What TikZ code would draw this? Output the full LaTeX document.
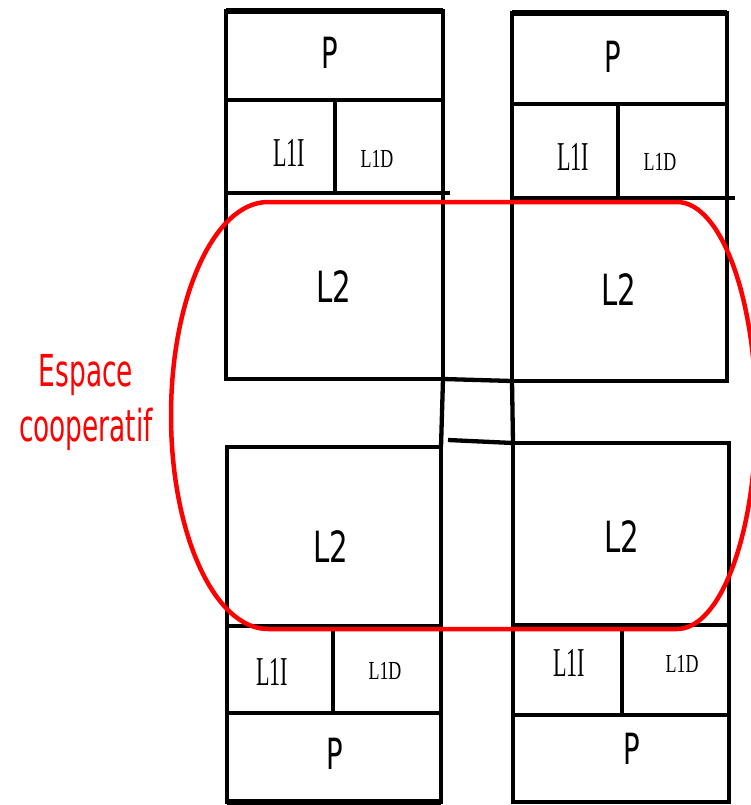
\documentclass[tikz,border=0pt]{standalone}
\usepackage{graphicx}
\usepackage{fontspec}
\newfontfamily\sansf{DejaVu Sans}
\newfontfamily\seriff{Liberation Serif}
\definecolor{espred}{RGB}{255,0,0}
\tikzset{
  cell/.style={draw, line width=4.3pt, inner sep=0pt, outer sep=0pt, anchor=north west},
  thickedge/.style={line width=6.5pt},
  joinline/.style={line width=4.3pt},
  bigtxt/.style={inner sep=0pt, font=\sansf\fontsize{43}{43}\selectfont},
  litxt/.style={inner sep=0pt, font=\seriff\fontsize{41}{41}\selectfont},
  ldtxt/.style={inner sep=0pt, font=\seriff\fontsize{26}{26}\selectfont},
  zone/.style={draw=espred, line width=4.5pt},
  zonetxt/.style={inner sep=0pt, text=espred, align=center, font=\sansf\fontsize{44}{55}\selectfont}
}
\newcommand{\sq}[2]{\scalebox{#1}[1]{#2}}
\begin{document}
\begin{tikzpicture}[x=1pt,y=1pt]
\useasboundingbox (0,0) rectangle (751,-805);
% top-left column
\node[cell, minimum width=217pt, minimum height=89pt] (tlP) at (226,-11) {};
\node[cell, minimum width=109pt, minimum height=93pt] (tlI) at (226,-100) {};
\node[cell, minimum width=108pt, minimum height=93pt] (tlD) at (335,-100) {};
\node[cell, minimum width=217pt, minimum height=186pt] (tlL) at (226,-193) {};
\draw[thickedge] (tlP.north west) -- (tlP.north east);
\coordinate (tlext) at (450,-193);
\draw[joinline] (tlL.north east) -- (tlext);
% top-right column
\node[cell, minimum width=215pt, minimum height=91pt] (trP) at (512,-13) {};
\node[cell, minimum width=106pt, minimum height=94pt] (trI) at (512,-104) {};
\node[cell, minimum width=109pt, minimum height=94pt] (trD) at (618,-104) {};
\node[cell, minimum width=215pt, minimum height=183pt] (trL) at (512,-198) {};
\draw[thickedge] (trP.north west) -- (trP.north east);
\coordinate (trext) at (735,-198);
\draw[joinline] (trL.north east) -- (trext);
% bottom-left column
\node[cell, minimum width=214pt, minimum height=179pt] (blL) at (227,-447) {};
\node[cell, minimum width=106pt, minimum height=87pt] (blI) at (227,-626) {};
\node[cell, minimum width=108pt, minimum height=87pt] (blD) at (333,-626) {};
\node[cell, minimum width=214pt, minimum height=89pt] (blP) at (227,-713) {};
\draw[thickedge] (blP.south west) -- (blP.south east);
% bottom-right column
\node[cell, minimum width=216pt, minimum height=182pt] (brL) at (513,-443) {};
\node[cell, minimum width=109pt, minimum height=90pt] (brI) at (513,-625) {};
\node[cell, minimum width=107pt, minimum height=90pt] (brD) at (622,-625) {};
\node[cell, minimum width=216pt, minimum height=87pt] (brP) at (513,-715) {};
% middle joins
\draw[joinline] (tlL.south east) -- (trL.south west);
\draw[joinline] (tlL.south east) -- (blL.north east);
\draw[joinline] (trL.south west) -- (brL.north west);
\coordinate (midjoin) at (448,-440);
\draw[joinline] (midjoin) -- (brL.north west);
% labels
\node[bigtxt] (tPa) at (330,-53) {\sq{0.64}{P}};
\node[bigtxt] (tPb) at (613,-57) {\sq{0.64}{P}};
\node[bigtxt] (tPc) at (335,-754) {\sq{0.64}{P}};
\node[bigtxt] (tPd) at (632,-749) {\sq{0.64}{P}};
\node[bigtxt] (tLa) at (334,-287) {\sq{0.68}{L2}};
\node[bigtxt] (tLb) at (619,-290) {\sq{0.68}{L2}};
\node[bigtxt] (tLc) at (331,-547) {\sq{0.68}{L2}};
\node[bigtxt] (tLd) at (622,-537) {\sq{0.68}{L2}};
\node[litxt] (tIa) at (289,-153) {\sq{0.54}{L1I}};
\node[litxt] (tIb) at (573,-157) {\sq{0.54}{L1I}};
\node[litxt] (tIc) at (272,-672) {\sq{0.54}{L1I}};
\node[litxt] (tId) at (569,-663) {\sq{0.54}{L1I}};
\node[ldtxt] (tDa) at (377,-159) {\sq{0.69}{L1D}};
\node[ldtxt] (tDb) at (660,-162) {\sq{0.69}{L1D}};
\node[ldtxt] (tDc) at (385,-671) {\sq{0.69}{L1D}};
\node[ldtxt] (tDd) at (682,-664) {\sq{0.69}{L1D}};
% cooperative zone
\draw[zone] (268,-202) -- (677,-202)
  arc[start angle=90, end angle=-90, x radius=79pt, y radius=213.5pt]
  -- (268,-629)
  arc[start angle=270, end angle=90, x radius=97pt, y radius=213.5pt]
  -- cycle;
\node[zonetxt] (esp) at (86,-403) {\sq{0.6}{Espace}\\\sq{0.6}{cooperatif}};
\end{tikzpicture}
\end{document}
